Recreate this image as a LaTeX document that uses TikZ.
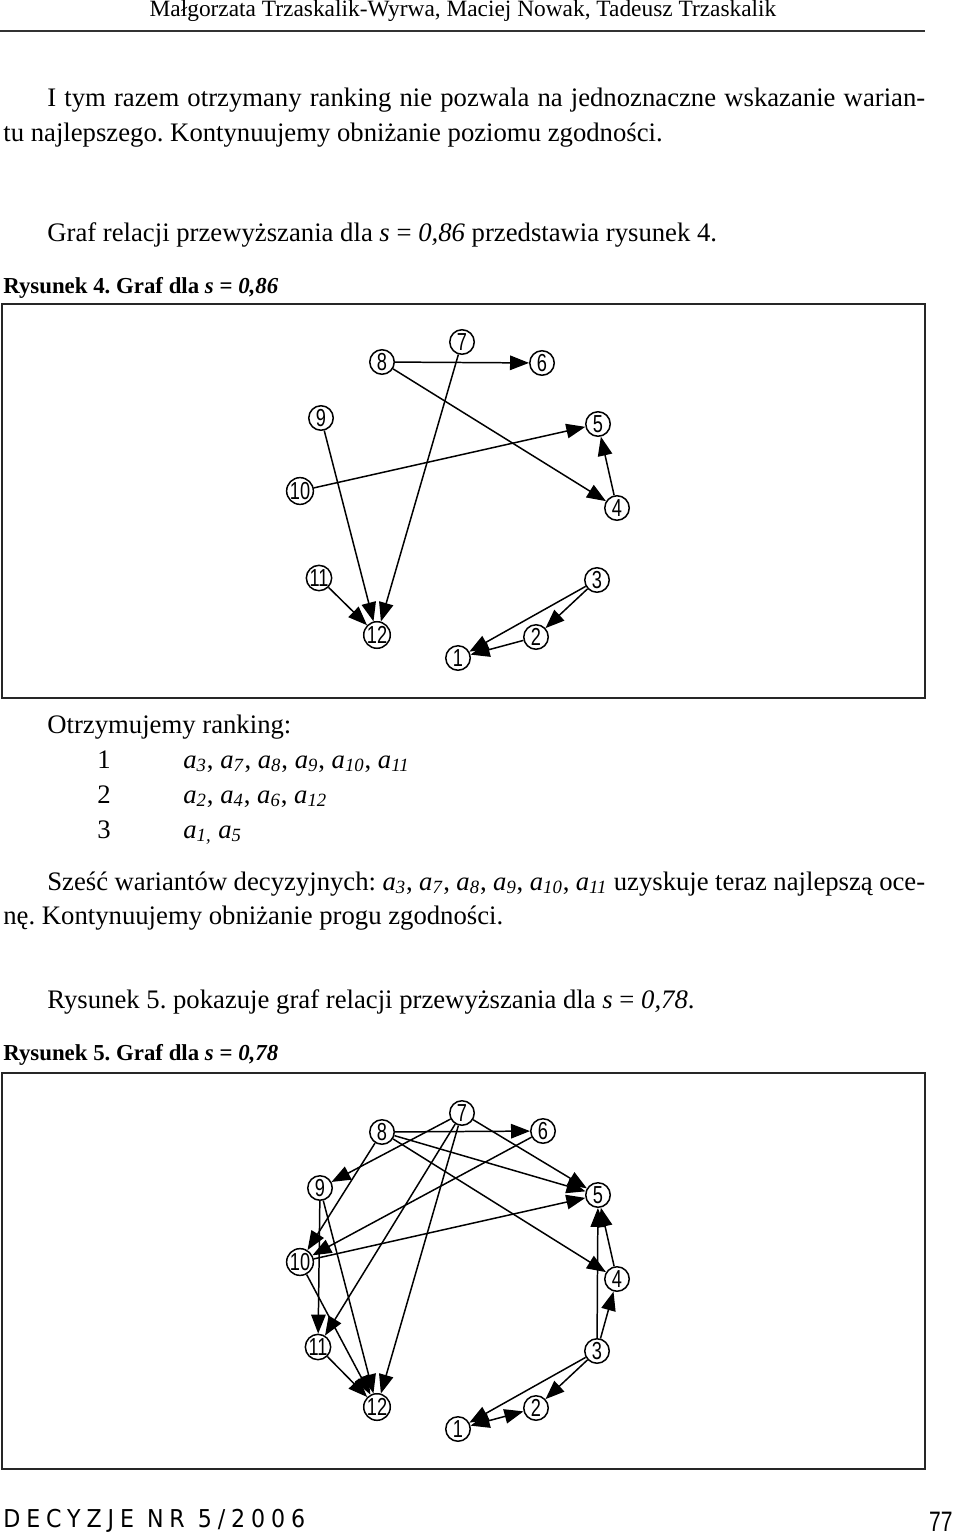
\documentclass[tikz,border=0pt]{standalone}
\usepackage{fontspec}
\setmainfont{Liberation Serif}
\newfontfamily\grafFont[FakeStretch=0.74]{Liberation Sans}
\newfontfamily\journalFont[LetterSpace=24, FakeStretch=0.9]{DejaVu Sans}
\newfontfamily\folioFont[FakeStretch=0.75]{Liberation Sans}
\usetikzlibrary{arrows.meta, positioning}
\newcommand{\av}[1]{\textit{a}\textsubscript{\textit{#1}}}
\tikzset{
    headText/.style={
        anchor=base, inner sep=0pt, font=\fontsize{13.3}{16}\selectfont
    },
    pageText/.style={
        anchor=base west, inner sep=0pt, font=\fontsize{15.2}{18}\selectfont
    },
    captionText/.style={
        anchor=base west, inner sep=0pt, font=\fontsize{13}{16}\selectfont\bfseries
    },
    frameBox/.style={
        draw=black!85, line width=1.2pt
    },
    grafNode/.style={
        circle, draw=black, fill=white, line width=0.85pt, minimum size=0.49cm, inner sep=0pt, font=\grafFont\fontsize{14}{14}\selectfont
    },
    grafArrow/.style={
        -{Triangle[length=0.38cm, width=0.29cm]}, line width=0.85pt, draw=black
    },
    grafBiArrow/.style={
        {Triangle[length=0.38cm, width=0.29cm]}-{Triangle[length=0.38cm, width=0.29cm]}, line width=0.85pt, draw=black
    }
}
\frenchspacing
\begin{document}
\begin{tikzpicture}[x=0.02cm, y=-0.02cm]
    \useasboundingbox (0,0) rectangle (960,1534);

    % ── RUNNING HEAD
    \node[headText] (runHead) at (463, 17) {Małgorzata Trzaskalik-Wyrwa, Maciej Nowak, Tadeusz Trzaskalik};
    \draw[black!80, line width=1.1pt] (0, 31) -- (925, 31);

    % ── TEXT ABOVE FIGURE 4
    \node[pageText] (parOneA) at (47, 107) {\makebox[17.56cm][s]{I tym razem otrzymany ranking nie pozwala na jednoznaczne wskazanie warian-}};
    \node[pageText] (parOneB) at (3, 142) {tu najlepszego. Kontynuujemy obniżanie poziomu zgodności.};
    \node[pageText] (parTwo) at (47, 241) {Graf relacji przewyższania dla \textit{s} = \textit{0,86} przedstawia rysunek 4.};
    \node[captionText] (capFour) at (3, 293) {Rysunek 4. Graf dla \textit{s} = \textit{0,86}};

    % ── FIGURE 4
    \draw[frameBox] (2, 304) rectangle (925, 698);
    \node[grafNode] (f4a1) at (458, 658) {1};
    \node[grafNode] (f4a2) at (536, 637) {2};
    \node[grafNode] (f4a3) at (597, 580) {3};
    \node[grafNode] (f4a4) at (617, 508) {4};
    \node[grafNode] (f4a5) at (598, 424) {5};
    \node[grafNode] (f4a6) at (542, 363) {6};
    \node[grafNode] (f4a7) at (462, 342) {7};
    \node[grafNode] (f4a8) at (382, 362) {8};
    \node[grafNode] (f4a9) at (321, 418) {9};
    \node[grafNode] (f4a10) at (300, 491) {10};
    \node[grafNode] (f4a11) at (319, 578) {11};
    \node[grafNode] (f4a12) at (377, 635) {12};

    \draw[grafArrow] (f4a8) -- (f4a6);
    \draw[grafArrow] (f4a8) -- (f4a4);
    \draw[grafArrow] (f4a7) -- (f4a12);
    \draw[grafArrow] (f4a9) -- (f4a12);
    \draw[grafArrow] (f4a11) -- (f4a12);
    \draw[grafArrow] (f4a10) -- (f4a5);
    \draw[grafArrow] (f4a4) -- (f4a5);
    \draw[grafArrow] (f4a3) -- (f4a1);
    \draw[grafArrow] (f4a3) -- (f4a2);
    \draw[grafArrow] (f4a2) -- (f4a1);

    % ── RANKING
    \node[pageText] (rankHead) at (47, 733) {Otrzymujemy ranking:};
    \node[pageText] (rankOneNo) at (97, 768) {1};
    \node[pageText] (rankOneSet) at (183, 768) {\av{3}, \av{7}, \av{8}, \av{9}, \av{10}, \av{11}};
    \node[pageText] (rankTwoNo) at (97, 803) {2};
    \node[pageText] (rankTwoSet) at (183, 803) {\av{2}, \av{4}, \av{6}, \av{12}};
    \node[pageText] (rankThreeNo) at (97, 838) {3};
    \node[pageText] (rankThreeSet) at (183, 838) {\textit{a}\textsubscript{\textit{1,}} \av{5}};

    \node[pageText] (parThreeA) at (47, 890) {\makebox[17.56cm][s]{Sześć wariantów decyzyjnych: \av{3}, \av{7}, \av{8}, \av{9}, \av{10}, \av{11} uzyskuje teraz najlepszą oce-}};
    \node[pageText] (parThreeB) at (3, 924) {nę. Kontynuujemy obniżanie progu zgodności.};
    \node[pageText] (parFour) at (47, 1008) {Rysunek 5. pokazuje graf relacji przewyższania dla \textit{s} = \textit{0,78}.};
    \node[captionText] (capFive) at (3, 1060) {Rysunek 5. Graf dla \textit{s} = \textit{0,78}};

    % ── FIGURE 5
    \draw[frameBox] (2, 1073) rectangle (925, 1469);
    \node[grafNode] (f5a1) at (458, 1429) {1};
    \node[grafNode] (f5a2) at (536, 1408) {2};
    \node[grafNode] (f5a3) at (597, 1351) {3};
    \node[grafNode] (f5a4) at (617, 1279) {4};
    \node[grafNode] (f5a5) at (598, 1195) {5};
    \node[grafNode] (f5a6) at (543, 1131) {6};
    \node[grafNode] (f5a7) at (462, 1113) {7};
    \node[grafNode] (f5a8) at (382, 1132) {8};
    \node[grafNode] (f5a9) at (320, 1188) {9};
    \node[grafNode] (f5a10) at (300, 1262) {10};
    \node[grafNode] (f5a11) at (318, 1347) {11};
    \node[grafNode] (f5a12) at (377, 1407) {12};

    \draw[grafArrow] (f5a8) -- (f5a6);
    \draw[grafArrow] (f5a8) -- (f5a5);
    \draw[grafArrow] (f5a8) -- (f5a4);
    \draw[grafArrow] (f5a8) -- (f5a10);
    \draw[grafArrow] (f5a7) -- (f5a9);
    \draw[grafArrow] (f5a7) -- (f5a5);
    \draw[grafArrow] (f5a7) -- (f5a11);
    \draw[grafArrow] (f5a7) -- (f5a12);
    \draw[grafArrow] (f5a6) -- (f5a10);
    \draw[grafArrow] (f5a10) -- (f5a5);
    \draw[grafArrow] (f5a9) -- (f5a11);
    \draw[grafArrow] (f5a9) -- (f5a12);
    \draw[grafArrow] (f5a10) -- (f5a12);
    \draw[grafArrow] (f5a11) -- (f5a12);
    \draw[grafArrow] (f5a4) -- (f5a5);
    \draw[grafArrow] (f5a3) -- (f5a5);
    \draw[grafArrow] (f5a3) -- (f5a4);
    \draw[grafArrow] (f5a3) -- (f5a2);
    \draw[grafArrow] (f5a3) -- (f5a1);
    \draw[grafBiArrow] (f5a1) -- (f5a2);

    % ── FOOTER
    \node[anchor=base west, inner sep=0pt, font=\journalFont\fontsize{14}{14}\selectfont] (journal) at (3, 1527) {DECYZJE NR 5/2006};
    \node[anchor=base east, inner sep=0pt, font=\folioFont\fontsize{16}{16}\selectfont] (folio) at (953, 1531) {77};
\end{tikzpicture}
\end{document}
